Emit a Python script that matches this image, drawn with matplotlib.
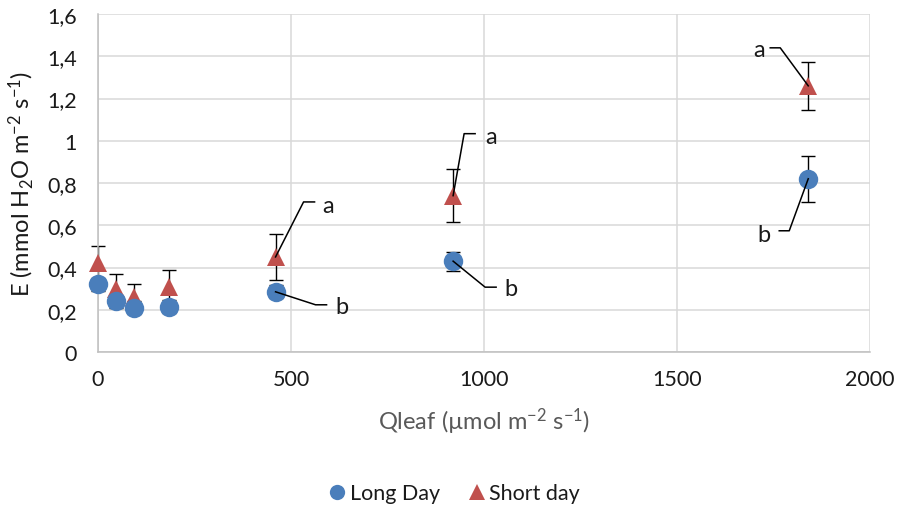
import matplotlib
matplotlib.use("Agg")
import matplotlib.pyplot as plt
import matplotlib.transforms as mtransforms
from matplotlib.lines import Line2D
from matplotlib.ticker import FuncFormatter

# Light intensity at leaf level (µmol m-2 s-1)
qleaf = [0, 46, 92, 184, 460, 920, 1840]

# Transpiration rate E (mmol H2O m-2 s-1) with standard errors
long_day = [0.32, 0.24, 0.21, 0.215, 0.285, 0.43, 0.82]
long_err = [0.03, 0.03, 0.03, 0.03, 0.03, 0.045, 0.11]
short_day = [0.42, 0.30, 0.26, 0.31, 0.45, 0.74, 1.26]
short_err = [0.08, 0.07, 0.06, 0.08, 0.11, 0.125, 0.115]

series_names = ["Long Day", "Short day"]
x_ticks = [0, 500, 1000, 1500, 2000]
y_ticks = [0, 0.2, 0.4, 0.6, 0.8, 1.0, 1.2, 1.4, 1.6]

# Significance letters: (series, index into qleaf, letter)
letters = [
    ("short", 4, "a"),
    ("long", 4, "b"),
    ("short", 5, "a"),
    ("long", 5, "b"),
    ("short", 6, "a"),
    ("long", 6, "b"),
]
# Leader-line vertices and letter position, in pixels relative to the point
leader_layout = [
    ([(0, 0), (28, 55), (39, 55)], (53, 45)),
    ([(0, 0), (40, -13), (51, -13)], (66, -21)),
    ([(0, 0), (11, 62), (22, 62)], (38, 53)),
    ([(0, 0), (32, -26), (43, -26)], (58, -34)),
    ([(0, 0), (-28, 38), (-38, 38)], (-49, 30)),
    ([(0, 0), (-19, -52), (-29, -52)], (-44, -62)),
]

BLUE = "#4a7ebb"
RED = "#c0504d"
GRID = "#d9d9d9"
TEXT = "#1a1a1a"

plt.rcParams["font.family"] = ["Lato", "DejaVu Sans"]
plt.rcParams["mathtext.default"] = "regular"

fig = plt.figure(figsize=(9.01, 5.10), dpi=100)
ax = fig.add_axes([98 / 901, 1 - 353 / 510, 772 / 901, 338 / 510])

ax.set_xlim(0, 2000)
ax.set_ylim(0, 1.6)
ax.set_xticks(x_ticks)
ax.set_yticks(y_ticks)
ax.yaxis.set_major_formatter(FuncFormatter(lambda v, p: f"{v:g}".replace(".", ",")))
ax.grid(True, color=GRID, lw=1.1, zorder=0)
ax.set_axisbelow(True)
for side in ("top", "right"):
    ax.spines[side].set_visible(False)
for side in ("left", "bottom"):
    ax.spines[side].set_color("#bfbfbf")
    ax.spines[side].set_linewidth(1.1)
ax.tick_params(length=0, labelsize=15.5, colors=TEXT)
ax.tick_params(axis="x", pad=12)
ax.tick_params(axis="y", pad=15)

# error bars beneath the markers
ax.errorbar(qleaf, long_day, yerr=long_err, fmt="none", ecolor="black",
            elinewidth=1, capsize=4.7, capthick=1, zorder=2, clip_on=False)
ax.errorbar(qleaf, short_day, yerr=short_err, fmt="none", ecolor="black",
            elinewidth=1, capsize=4.7, capthick=1, zorder=2, clip_on=False)
ax.plot(qleaf, short_day, ls="none", marker="^", ms=13.5, color=RED,
        markeredgewidth=0, zorder=3, clip_on=False)
ax.plot(qleaf, long_day, ls="none", marker="o", ms=14, color=BLUE,
        markeredgewidth=0, zorder=4, clip_on=False)

values = {"long": long_day, "short": short_day}
scale = mtransforms.Affine2D().scale(fig.dpi / 100)
for (ser, i, letter), (verts, (tx, ty)) in zip(letters, leader_layout):
    x, y = qleaf[i], values[ser][i]
    anchor = mtransforms.ScaledTranslation(x, y, ax.transData)
    tr = scale + anchor
    xs = [v[0] for v in verts]
    ys = [v[1] for v in verts]
    ax.add_line(Line2D(xs, ys, transform=tr, color="black", lw=1.1,
                       zorder=5, clip_on=False))
    ax.text(tx, ty, letter, transform=tr, ha="center", va="baseline",
            fontsize=17, color=TEXT, zorder=5)

ax.set_ylabel("E (mmol H$_2$O m$^{-2}$ s$^{-1}$)", fontsize=17, color=TEXT,
              labelpad=8)
ax.set_xlabel("Qleaf (µmol m$^{-2}$ s$^{-1}$)", fontsize=17, color="#595959",
              labelpad=12)

handles = [
    Line2D([], [], ls="none", marker="o", ms=11, color=BLUE, markeredgewidth=0),
    Line2D([], [], ls="none", marker="^", ms=11, color=RED, markeredgewidth=0),
]
leg = fig.legend(handles, series_names, loc="center", bbox_to_anchor=(0.503, 0.031),
                 ncol=2, frameon=False, fontsize=15.5, handletextpad=0.1,
                 columnspacing=1.2, handlelength=1.0)
for t in leg.get_texts():
    t.set_color(TEXT)

fig.savefig("out.png", dpi=100)
